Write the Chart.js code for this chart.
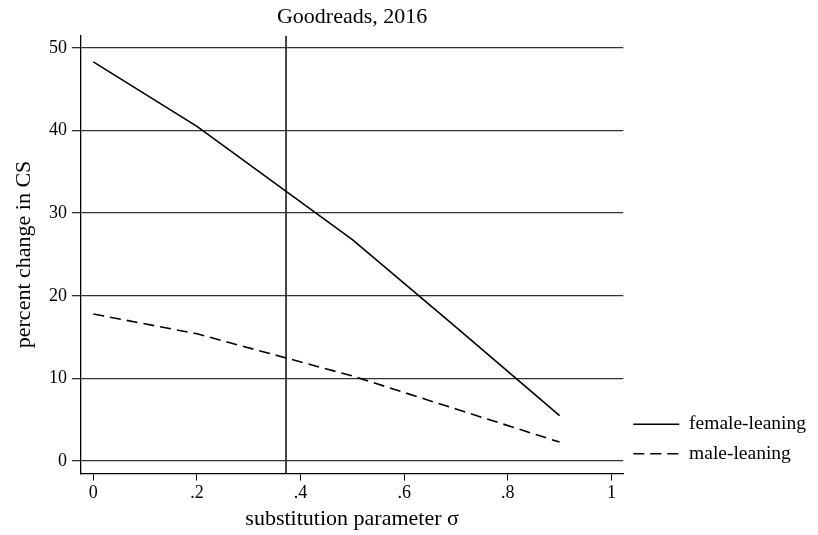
<!DOCTYPE html>
<html>
<head>
<meta charset="utf-8">
<script src="https://cdn.jsdelivr.net/npm/chart.js@4/dist/chart.umd.min.js"></script>
<style>
  html, body { margin: 0; padding: 0; background: #ffffff; }
  #wrap { width: 818px; height: 535px; }
</style>
</head>
<body>
<div id="wrap"><canvas id="c" width="818" height="535"></canvas></div>
<script>
// ---- data ----
const sigma = [0, 0.2, 0.5, 0.7, 0.9];
const femaleLeaning = [48.3, 40.5, 26.8, 16.2, 5.5];
const maleLeaning = [17.8, 15.4, 10.3, 6.3, 2.3];
const sigmaMarker = 0.372;

const xTicks = [0, 0.2, 0.4, 0.6, 0.8, 1];
const xTickLabels = ['0', '.2', '.4', '.6', '.8', '1'];
const yTicks = [0, 10, 20, 30, 40, 50];
const yTickLabels = ['0', '10', '20', '30', '40', '50'];

const xMin = -0.024, xMax = 1.023;
const yMin = -1.5, yMax = 51.5;

const FONT = '"Liberation Serif", "Times New Roman", serif';

const toPoints = (xs, ys) => xs.map((x, i) => ({ x: x, y: ys[i] }));

new Chart(document.getElementById('c'), {
  type: 'line',
  data: {
    datasets: [
      {
        label: 'female-leaning',
        data: toPoints(sigma, femaleLeaning),
        borderColor: '#000000',
        backgroundColor: '#000000',
        borderWidth: 1.6,
        pointRadius: 0,
        tension: 0,
        fill: false
      },
      {
        label: 'male-leaning',
        data: toPoints(sigma, maleLeaning),
        borderColor: '#000000',
        backgroundColor: '#000000',
        borderWidth: 1.6,
        borderDash: [11, 6],
        pointRadius: 0,
        tension: 0,
        fill: false
      },
      {
        label: '',
        data: [{ x: sigmaMarker, y: yMin }, { x: sigmaMarker, y: yMax }],
        borderColor: '#333333',
        borderWidth: 1.8,
        pointRadius: 0,
        fill: false
      }
    ]
  },
  options: {
    responsive: false,
    devicePixelRatio: 1,
    animation: false,
    layout: { padding: { right: 2 } },
    plugins: {
      title: {
        display: true,
        text: 'Goodreads, 2016',
        fullSize: false,
        color: '#000000',
        font: { family: FONT, size: 22, weight: 'normal' },
        padding: { top: 4, bottom: 5 }
      },
      legend: {
        display: true,
        position: 'right',
        align: 'end',
        fullSize: false,
        labels: {
          usePointStyle: true,
          pointStyle: 'line',
          pointStyleWidth: 46,
          color: '#000000',
          padding: 10,
          font: { family: FONT, size: 19.5 },
          generateLabels: (chart) => chart.data.datasets
            .map((ds, i) => ({
              text: ds.label,
              strokeStyle: ds.borderColor,
              fillStyle: ds.borderColor,
              fontColor: '#000000',
              lineWidth: ds.borderWidth,
              lineDash: ds.borderDash || [],
              pointStyle: 'line',
              hidden: false,
              datasetIndex: i
            }))
            .filter(item => item.text !== '')
        }
      },
      tooltip: { enabled: false }
    },
    scales: {
      x: {
        type: 'linear',
        min: xMin,
        max: xMax,
        afterBuildTicks: (scale) => { scale.ticks = xTicks.map(v => ({ value: v })); },
        ticks: {
          color: '#000000',
          font: { family: FONT, size: 18 },
          padding: 2,
          maxRotation: 0,
          autoSkip: false,
          callback: (value, index) => xTickLabels[index]
        },
        grid: {
          display: true,
          drawOnChartArea: false,
          drawTicks: true,
          tickLength: 7,
          color: '#000000',
          lineWidth: 1
        },
        border: { display: true, color: '#000000', width: 1.3 },
        title: {
          display: true,
          text: 'substitution parameter σ',
          color: '#000000',
          font: { family: FONT, size: 22 },
          padding: { top: 0, bottom: 2.5 }
        }
      },
      y: {
        type: 'linear',
        min: yMin,
        max: yMax,
        afterBuildTicks: (scale) => { scale.ticks = yTicks.map(v => ({ value: v })); },
        ticks: {
          color: '#000000',
          font: { family: FONT, size: 18 },
          padding: 5,
          autoSkip: false,
          callback: (value, index) => yTickLabels[index]
        },
        grid: {
          display: true,
          drawOnChartArea: true,
          drawTicks: true,
          tickLength: 9,
          color: '#333333',
          lineWidth: 1.3
        },
        border: { display: true, color: '#000000', width: 1.3 },
        title: {
          display: true,
          text: 'percent change in CS',
          color: '#000000',
          font: { family: FONT, size: 22 },
          padding: { top: 11, bottom: 6.5 }
        }
      }
    }
  }
});
</script>
</body>
</html>
